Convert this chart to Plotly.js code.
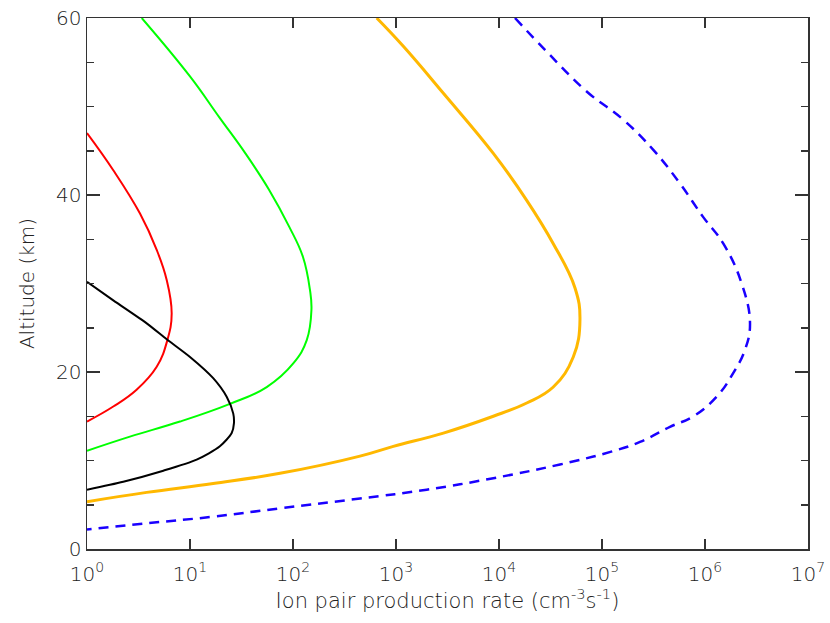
<!DOCTYPE html>
<html>
<head>
<meta charset="utf-8">
<script src="https://cdn.plot.ly/plotly-3.0.1.min.js"></script>
<style>html,body{margin:0;padding:0;background:#fff;}#chart{width:830px;height:623px;}</style>
</head>
<body>
<div id="chart"></div>
<script>
// Altitude (km) and ion pair production rate (cm^-3 s^-1)
const redAlt   = [47.0, 42.8, 37.9, 33.8, 30.4, 26.6, 23.6, 20.6, 18.0, 16.1, 14.4];
const redRate  = [1.0, 1.80, 3.27, 4.75, 5.94, 6.64, 6.03, 4.75, 3.03, 1.80, 1.0];

const greenAlt  = [60.0, 53.4, 48.8, 44.7, 40.6, 36.4, 33.0, 29.3, 27.0, 23.6, 21.0, 18.3, 16.4, 14.4, 12.7, 11.1];
const greenRate = [3.4, 10.0, 19.2, 34.5, 58.5, 92.0, 125, 146, 151, 136, 101, 55.6, 24.4, 8.0, 2.61, 1.0];

const blackAlt  = [30.2, 28.1, 25.5, 23.7, 21.7, 19.3, 17.2, 15.3, 14.2, 13.1, 11.6, 10.1, 8.85, 7.6, 6.7];
const blackRate = [1.0, 1.80, 3.80, 5.94, 10.0, 16.8, 22.7, 26.3, 26.7, 25.4, 19.5, 11.6, 5.51, 2.25, 1.0];

const orangeAlt  = [60.0, 56.8, 51.5, 44.7, 39.4, 34.5, 29.5, 25.9, 21.7, 18.3, 16.5, 15.0, 13.1, 11.6, 10.5, 8.55, 7.4, 6.4, 5.35];
const orangeRate = [650, 1178, 2884, 8810, 18580, 33650, 54700, 61100, 52600, 33650, 18580, 8810, 2884, 942, 447, 74.8, 16.8, 3.80, 1.0];

const blueAlt  = [60.0, 56.2, 51.7, 48.5, 45.1, 41.3, 37.5, 34.5, 30.0, 25.5, 22.5, 19.9, 17.2, 15.0, 13.8, 12.1, 11.0, 9.55, 8.0, 6.7, 5.7, 4.6, 3.65, 2.9, 2.2];
const blueRate = [14290, 29040, 70960, 161100, 314800, 571500, 961600, 1.507e6, 2.270e6, 2.735e6, 2.443e6, 1.884e6, 1.297e6, 7.71e5, 4.57e5, 2.339e5, 1.23e5, 39080, 8810, 1986, 447, 74.8, 16.8, 3.80, 1.0];

const xTickVals = [1, 10, 100, 1e3, 1e4, 1e5, 1e6, 1e7];
const xTickText = ['10<sup>0</sup>','10<sup>1</sup>','10<sup>2</sup>','10<sup>3</sup>','10<sup>4</sup>','10<sup>5</sup>','10<sup>6</sup>','10<sup>7</sup>'];
const yTickVals = [0, 20, 40, 60];

const FONT = 'DejaVu Sans, Liberation Sans, sans-serif';
const TXT = '#222222';
const AX = '#333333';

function tr(x, y, color, width, dash, smoothing) {
  return {x: x, y: y, type: 'scatter', mode: 'lines', cliponaxis: true,
    line: {color: color, width: width, dash: dash || 'solid', shape: 'spline', smoothing: smoothing || 1.2},
    hoverinfo: 'skip', showlegend: false};
}

const data = [
  tr(blueRate, blueAlt, '#1a00ff', 2.5, '10px,7px'),
  tr(orangeRate, orangeAlt, '#ffb800', 3),
  tr(greenRate, greenAlt, '#00ff00', 2),
  tr(redRate, redAlt, '#ff0000', 2),
  tr(blackRate, blackAlt, '#000000', 2, 'solid', 0.7)
];

const layout = {
  width: 830, height: 623,
  margin: {l: 87, r: 22, t: 18, b: 74},
  paper_bgcolor: '#ffffff', plot_bgcolor: '#ffffff',
  font: {family: FONT, size: 20, color: TXT, weight: 300},
  xaxis: {
    type: 'log', range: [0, 7],
    tickvals: xTickVals, ticktext: xTickText,
    ticks: 'inside', ticklen: 10, tickwidth: 1.5, tickcolor: AX,
    ticklabelstandoff: 6,
    showline: true, linecolor: AX, linewidth: 1.5, mirror: 'ticks',
    showgrid: false, zeroline: false,
    tickfont: {family: FONT, size: 20, color: TXT, weight: 300},
    title: {text: 'Ion pair production rate (cm<sup>-3</sup>s<sup>-1</sup>)', font: {family: FONT, size: 21, color: TXT, weight: 300}, standoff: 2}
  },
  yaxis: {
    range: [0, 60],
    tickvals: yTickVals,
    ticks: 'inside', ticklen: 13, tickwidth: 1.5, tickcolor: AX,
    minor: {dtick: 5, tick0: 0, ticks: 'inside', ticklen: 7, tickwidth: 1.5, tickcolor: AX, showgrid: false},
    showline: true, linecolor: AX, linewidth: 1.5, mirror: 'ticks',
    showgrid: false, zeroline: false,
    tickfont: {family: FONT, size: 20, color: TXT, weight: 300},
    title: {text: 'Altitude (km)', font: {family: FONT, size: 20, color: TXT, weight: 300}, standoff: 16}
  }
};

Plotly.newPlot('chart', data, layout, {staticPlot: true, displayModeBar: false});
</script>
</body>
</html>
